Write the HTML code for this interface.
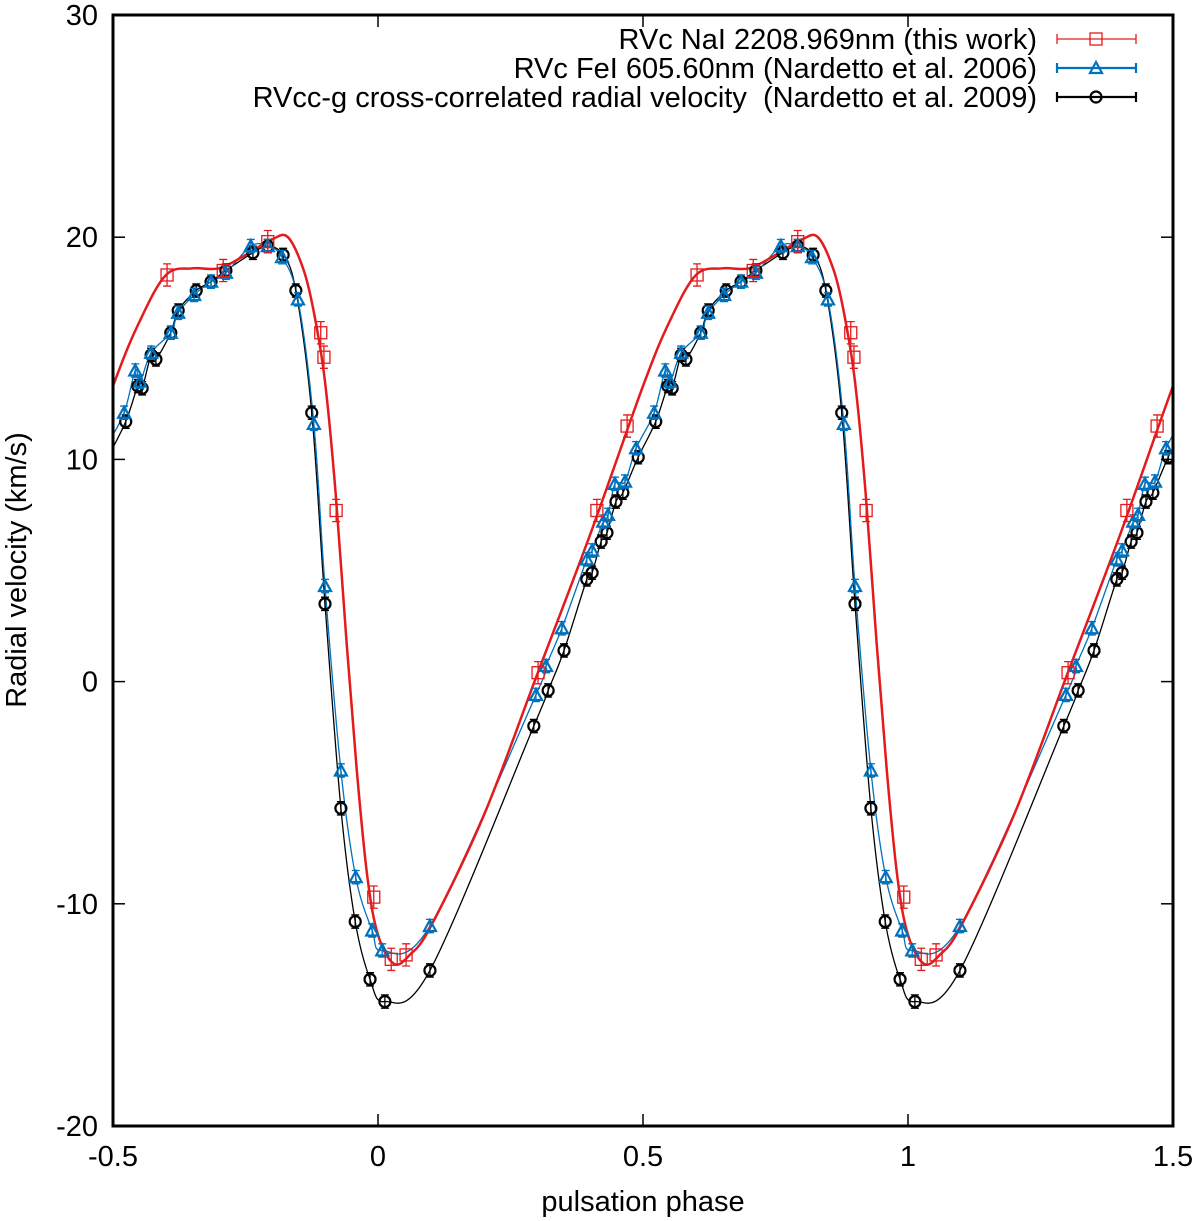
<!DOCTYPE html>
<html><head><meta charset="utf-8"><style>body{margin:0;background:#fff}svg{display:block;font-family:"Liberation Sans",sans-serif}</style></head>
<body>
<svg id="c" width="1200" height="1221"></svg>
<script>
const redPhase=[0.602,0.708,0.792,0.892,0.898,0.921,0.992,0.025,0.053,0.302,0.413,0.470];
const redVel=[18.3,18.5,19.8,15.7,14.6,7.7,-9.7,-12.5,-12.3,0.4,7.7,11.5];
const bluePhase=[0.521,0.542,0.551,0.572,0.609,0.623,0.653,0.685,0.713,0.760,0.792,0.819,0.849,0.879,0.900,0.930,0.958,0.989,0.008,0.098,0.298,0.317,0.347,0.394,0.404,0.425,0.434,0.447,0.466,0.487];
const blueVel=[12.1,14.0,13.5,14.8,15.7,16.6,17.4,18.0,18.4,19.6,19.6,19.1,17.2,11.6,4.3,-4.0,-8.8,-11.2,-12.1,-11.0,-0.6,0.7,2.4,5.5,5.9,7.2,7.5,8.9,9.0,10.5];
const blackPhase=[0.524,0.547,0.555,0.572,0.581,0.609,0.623,0.657,0.685,0.713,0.764,0.792,0.821,0.845,0.875,0.900,0.930,0.957,0.985,0.013,0.098,0.294,0.321,0.351,0.394,0.404,0.421,0.432,0.449,0.462,0.491];
const blackVel=[11.7,13.3,13.2,14.7,14.5,15.7,16.7,17.6,18.0,18.5,19.3,19.6,19.2,17.6,12.1,3.5,-5.7,-10.8,-13.4,-14.4,-13.0,-2.0,-0.4,1.4,4.6,4.9,6.3,6.7,8.1,8.5,10.1];
const redCurvePhase=[0.0,0.03,0.06,0.1,0.2,0.3,0.4,0.5,0.55,0.6,0.65,0.7,0.75,0.8,0.83,0.86,0.88,0.9,0.92,0.94,0.96,0.98];
const redCurveVel=[-11.4,-12.7,-12.3,-11.0,-6.0,0.3,6.6,13.3,16.2,18.3,18.6,18.6,19.2,19.9,20.0,18.5,16.5,13.5,8.5,2.0,-4.0,-8.8];
const xTicks=[-0.5,0,0.5,1,1.5];
const yTicks=[-20,-10,0,10,20,30];
const X0=113,X1=1173,Y0=1126,Y1=15,FS=29;
const sx=p=>X0+(p+0.5)/2*(X1-X0);
const sy=v=>Y0-(v+20)/50*(Y0-Y1);
const svg=document.getElementById('c');
const NS='http://www.w3.org/2000/svg';
function mk(t,a,parent){const e=document.createElementNS(NS,t);for(const k in a)e.setAttribute(k,a[k]);(parent||svg).appendChild(e);return e;}
function spline(pts){let d='M'+pts[0][0]+','+pts[0][1];for(let i=0;i<pts.length-1;i++){const p0=pts[Math.max(0,i-1)],p1=pts[i],p2=pts[i+1],p3=pts[Math.min(pts.length-1,i+2)];d+=' C'+(p1[0]+(p2[0]-p0[0])/6)+','+(p1[1]+(p2[1]-p0[1])/6)+' '+(p2[0]-(p3[0]-p1[0])/6)+','+(p2[1]-(p3[1]-p1[1])/6)+' '+p2[0]+','+p2[1];}return d;}
function curvePts(ph,vel){const arr=ph.map((p,i)=>[p,vel[i]]).sort((a,b)=>a[0]-b[0]);const all=[];for(const s of [-2,-1,0,1]){arr.forEach(a=>all.push([a[0]+s,a[1]]));}return all.filter(a=>a[0]>=-0.62&&a[0]<=1.62).map(a=>[sx(a[0]),sy(a[1])]);}
const clip=mk('clipPath',{id:'pc'});mk('rect',{x:X0,y:Y1,width:X1-X0,height:Y0-Y1},clip);
const g=mk('g',{'clip-path':'url(#pc)'});
xTicks.forEach(t=>{const x=sx(t);mk('line',{x1:x,y1:Y0,x2:x,y2:Y0-12,stroke:'#000','stroke-width':1.5});mk('line',{x1:x,y1:Y1,x2:x,y2:Y1+12,stroke:'#000','stroke-width':1.5});const tx=mk('text',{x:x,y:Y0+40,'font-size':FS,'text-anchor':'middle'});tx.textContent=t;});
yTicks.forEach(t=>{const y=sy(t);mk('line',{x1:X0,y1:y,x2:X0+12,y2:y,stroke:'#000','stroke-width':1.5});mk('line',{x1:X1,y1:y,x2:X1-12,y2:y,stroke:'#000','stroke-width':1.5});const tx=mk('text',{x:X0-15,y:y+10,'font-size':FS,'text-anchor':'end'});tx.textContent=t;});
const cb=mk('path',{d:spline(curvePts(blackPhase,blackVel)),fill:'none',stroke:'#000','stroke-width':1.3},g);
const cbl=mk('path',{d:spline(curvePts(bluePhase,blueVel)),fill:'none',stroke:'#0072bd','stroke-width':1.3},g);
const cr=mk('path',{d:spline(curvePts(redCurvePhase,redCurveVel)),fill:'none',stroke:'#e41a1c','stroke-width':2.5},g);
function marker(kind,x,y,col,parent){if(kind==='sq')return mk('rect',{x:x-6,y:y-6,width:12,height:12,fill:'none',stroke:col,'stroke-width':1.3},parent);if(kind==='tri')return mk('path',{d:`M${x},${y-6}L${x+6},${y+5}L${x-6},${y+5}Z`,fill:'none',stroke:col,'stroke-width':2.2},parent);return mk('circle',{cx:x,cy:y,r:5.5,fill:'none',stroke:col,'stroke-width':2.2},parent);}
function series(ph,vel,err,col,kind,name){ph.forEach((p,i)=>{[p-1,p,p+1].forEach(q=>{if(q<-0.5||q>1.5)return;const x=sx(q),y=sy(vel[i]);const e=err*(Y0-Y1)/50;mk('path',{d:`M${x},${y-e}V${y+e}M${x-4},${y-e}H${x+4}M${x-4},${y+e}H${x+4}`,stroke:col,'stroke-width':1.3},g);const m=marker(kind,x,y,col,g);});});}
series(blackPhase,blackVel,0.3,'#000','circ','black');
series(bluePhase,blueVel,0.3,'#0072bd','tri','blue');
series(redPhase,redVel,0.5,'#e41a1c','sq','red');
mk('rect',{x:X0,y:Y1,width:X1-X0,height:Y0-Y1,fill:'none',stroke:'#000','stroke-width':3});
const leg=[['RVc NaI 2208.969nm (this work)','#e41a1c','sq',1.3],['RVc FeI 605.60nm (Nardetto et al. 2006)','#0072bd','tri',2.2],['RVcc-g cross-correlated radial velocity\u00a0\u00a0(Nardetto et al. 2009)','#000','circ',2.2]];
leg.forEach((l,i)=>{const y=39+i*29;const t=mk('text',{x:1037,y:y+10,'font-size':FS,'text-anchor':'end'});t.textContent=l[0];mk('path',{d:`M1057,${y}H1136M1057,${y-5}V${y+5}M1136,${y-5}V${y+5}`,stroke:l[1],'stroke-width':l[3]});marker(l[2],1096,y,l[1]);});
const xt=mk('text',{x:643,y:1211,'font-size':FS,'text-anchor':'middle'});xt.textContent='pulsation phase';
const yt=mk('text',{x:0,y:0,'font-size':FS,'text-anchor':'middle',transform:'translate(26,570) rotate(-90)'});yt.textContent='Radial velocity (km/s)';
</script>
</body></html>
